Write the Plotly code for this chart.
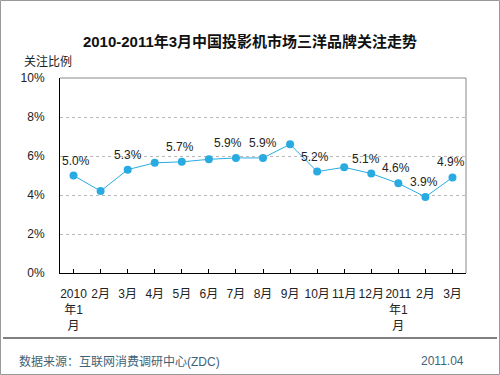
import plotly.graph_objects as go

months = ["2010<br>年1<br>月", "2月", "3月", "4月", "5月", "6月", "7月", "8月", "9月",
          "10月", "11月", "12月", "2011<br>年1<br>月", "2月", "3月"]
values = [5.0, 4.2, 5.3, 5.65, 5.7, 5.83, 5.9, 5.9, 6.6, 5.2, 5.42, 5.1, 4.6, 3.9, 4.9]
labels = ["5.0%", "", "5.3%", "", "5.7%", "", "5.9%", "5.9%", "", "5.2%", "", "5.1%", "4.6%", "3.9%", "4.9%"]
label_dx = [2, 0, 0, 0, -2, 0, -8, 0, 0, -2, 0, -5, -2, -1, -1]
yticks = [0, 2, 4, 6, 8, 10]

FONT = "Arial, 'Liberation Sans', 'Noto Sans CJK SC', sans-serif"
BLUE = "#29abe2"

L, R, T, B = 60, 34, 78, 102
W, H = 500, 375
pw, ph = W - L - R, H - T - B
def px(x):
    return (x - L) / pw
def py(y):
    return (H - B - y) / ph

xs = list(range(len(months)))
fig = go.Figure()
fig.add_trace(go.Scatter(
    x=xs, y=values, mode="lines+markers",
    line=dict(color=BLUE, width=1),
    marker=dict(color=BLUE, size=8),
    cliponaxis=False, showlegend=False, hoverinfo="skip",
))

for i, (lab, v) in enumerate(zip(labels, values)):
    if lab:
        fig.add_annotation(x=xs[i], y=v, text=lab, showarrow=False,
                           yanchor="bottom", yshift=6, xshift=label_dx[i],
                           font=dict(family=FONT, size=12, color="#222222"))

fig.update_layout(
    width=W, height=H,
    margin=dict(l=L, r=R, t=T, b=B, autoexpand=False),
    paper_bgcolor="white", plot_bgcolor="white",
    font=dict(family=FONT, size=12, color="#222222"),
    title=dict(text="<b>2010-2011年3月中国投影机市场三洋品牌关注走势</b>",
               x=0.5, xanchor="center", y=1 - 42 / H, yanchor="middle",
               font=dict(family=FONT, size=15, color="#111111")),
    xaxis=dict(
        range=[-0.5, len(months) - 0.5],
        tickmode="array", tickvals=xs, ticktext=months, tickangle=0,
        showgrid=False, showline=True, linecolor="black", linewidth=1,
        ticks="inside", ticklen=4, tickcolor="black", tickson="boundaries",
        zeroline=False, ticklabelstandoff=10, automargin=False,
        tickfont=dict(size=12, color="#222222"),
    ),
    yaxis=dict(
        range=[0, 10], tickvals=yticks, ticktext=[f"{v}%" for v in yticks],
        showgrid=True, gridcolor="#b8b8b8", griddash="dot", gridwidth=1,
        showline=True, linecolor="black", linewidth=1, zeroline=False,
        ticks="", ticklabelstandoff=12, automargin=False,
        tickfont=dict(size=12, color="#222222"),
    ),
)

# plot frame top/right (gray)
fig.add_shape(type="line", xref="paper", yref="paper", x0=0, x1=1, y0=1, y1=1,
              line=dict(color="#888888", width=1))
fig.add_shape(type="line", xref="paper", yref="paper", x0=1, x1=1, y0=0, y1=1,
              line=dict(color="#888888", width=1))
# outer border
fig.add_shape(type="rect", xref="paper", yref="paper",
              x0=px(0.5), x1=px(499.5), y0=py(374.5), y1=py(0.5),
              line=dict(color="#999999", width=1))
# footer rule
fig.add_shape(type="line", xref="paper", yref="paper",
              x0=px(3), x1=px(497), y0=py(338), y1=py(338),
              line=dict(color="black", width=1))

fig.add_annotation(text="关注比例", xref="paper", yref="paper", x=px(22), y=py(61),
                   xanchor="left", yanchor="middle", showarrow=False,
                   font=dict(family=FONT, size=12, color="#222222"))
fig.add_annotation(text="数据来源：互联网消费调研中心(ZDC)", xref="paper", yref="paper",
                   x=px(17), y=py(361), xanchor="left", yanchor="middle", showarrow=False,
                   font=dict(family=FONT, size=12, color="#3f6376"))
fig.add_annotation(text="2011.04", xref="paper", yref="paper",
                   x=px(466), y=py(361), xanchor="right", yanchor="middle", showarrow=False,
                   font=dict(family=FONT, size=12, color="#3f6376"))

fig.write_html("out.html", config={"displayModeBar": False, "staticPlot": True},
               post_script="document.body.style.margin='0';document.body.style.overflow='hidden';")
